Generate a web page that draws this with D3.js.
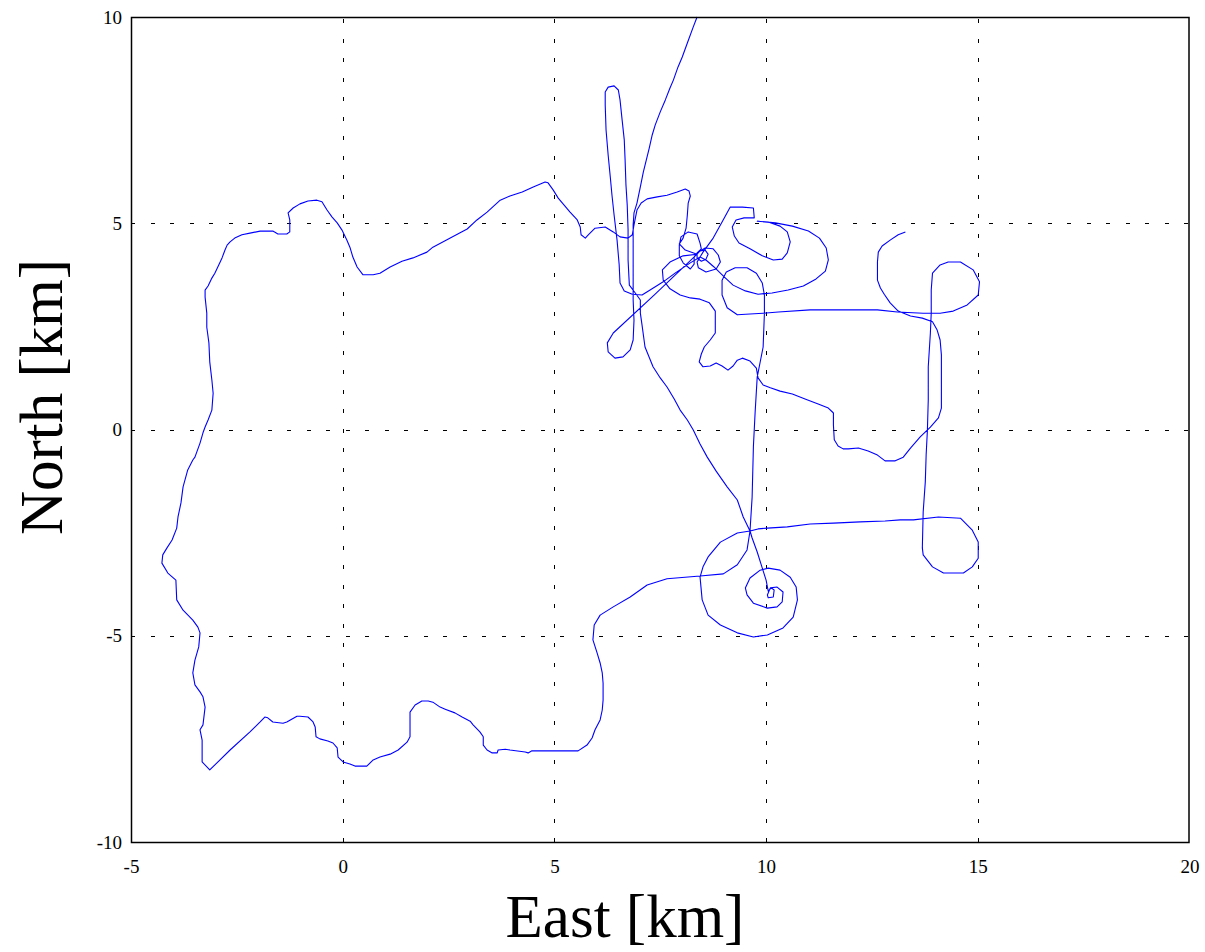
<!DOCTYPE html>
<html>
<head>
<meta charset="utf-8">
<script src="https://cdn.jsdelivr.net/npm/d3@7"></script>
<style>
  html, body { margin: 0; padding: 0; background: #ffffff; }
  svg { display: block; }
  .axis-title { font-family: "Liberation Serif", "Times New Roman", serif; font-size: 61px; fill: #000; }
</style>
</head>
<body>
<svg id="chart" width="1205" height="952"></svg>
<script>
// Axis ranges and tick values (km)
const eastDomain = [-5, 20];
const northDomain = [-10, 10];
const eastTicks = [-5, 0, 5, 10, 15, 20];
const northTicks = [-10, -5, 0, 5, 10];
const eastGrid = [0, 5, 10, 15];
const northGrid = [-5, 0, 5];

// Vehicle track, [east, north] in km, split into consecutive legs
const legDescent = [[8.37,10.00],[8.28,9.76],[8.14,9.37],[8.02,9.03],[7.92,8.79],[7.81,8.47],[7.73,8.28],[7.62,7.99],[7.50,7.70],[7.38,7.38],[7.31,7.14],[7.24,6.82],[7.17,6.53],[7.10,6.24],[7.03,5.88],[6.95,5.49],[6.88,5.25],[6.86,4.96],[6.86,4.47],[6.86,3.87],[6.86,3.14],[6.88,2.65],[6.86,2.17],[6.79,1.93],[6.62,1.76],[6.43,1.73],[6.27,1.88],[6.25,2.10],[6.39,2.34],[7.38,3.28],[8.37,4.25]];

const legCluster = [[8.44,4.33],[8.56,4.35],[8.63,4.25],[8.58,4.13],[8.47,4.08],[8.37,4.16],[8.37,4.28],[8.47,4.38],[8.44,4.52],[8.37,4.74],[8.16,4.79],[7.99,4.67],[7.95,4.47],[7.95,4.21],[8.04,4.04],[8.21,3.89],[8.30,4.01],[8.30,4.18],[8.37,4.28],[8.56,4.40],[8.75,4.38],[8.87,4.23],[8.92,4.06],[8.82,3.89],[8.58,3.82],[8.40,3.92],[8.37,4.06],[8.44,4.18],[8.51,4.30],[8.75,4.64],[8.96,5.03],[9.15,5.39],[9.44,5.39],[9.70,5.37],[9.72,5.13],[9.48,5.13],[9.29,5.08],[9.20,4.91],[9.25,4.69],[9.36,4.52],[9.62,4.38],[9.91,4.21],[10.17,4.11],[10.38,4.13],[10.50,4.28],[10.57,4.55],[10.50,4.79],[10.33,4.93],[10.05,5.03],[9.79,5.05],[10.22,5.01],[10.62,4.93],[11.00,4.81],[11.26,4.64],[11.42,4.40],[11.47,4.11],[11.40,3.84],[11.18,3.65],[10.88,3.48],[10.52,3.38],[10.14,3.31],[9.81,3.28],[9.51,3.36],[9.22,3.50],[9.01,3.70],[8.77,3.94],[8.58,4.11],[8.44,4.18]];

const legNarrow = [[8.21,4.04],[7.85,3.79],[7.57,3.58],[7.26,3.38],[7.07,3.26],[6.84,3.28],[6.65,3.36],[6.55,3.55],[6.53,3.99],[6.48,4.59],[6.41,5.20],[6.36,5.68],[6.32,6.12],[6.27,6.65],[6.22,7.26],[6.20,7.87],[6.20,8.18],[6.27,8.30],[6.41,8.33],[6.51,8.23],[6.55,7.99],[6.60,7.50],[6.65,7.02],[6.67,6.53],[6.69,5.93],[6.72,5.44],[6.74,4.84],[6.74,4.11],[6.77,3.50],[6.91,3.31],[7.03,3.14],[7.03,2.82],[7.07,2.53],[7.14,2.00],[7.33,1.52],[7.50,1.25],[7.66,1.03],[7.83,0.74],[7.97,0.47],[8.14,0.23],[8.28,-0.01],[8.44,-0.35],[8.61,-0.67],[8.82,-1.01],[9.08,-1.39],[9.32,-1.71],[9.46,-2.12],[9.62,-2.46]];

const legRectangle = [[9.81,-2.41],[10.03,-2.39],[10.50,-2.36],[11.04,-2.29],[11.59,-2.27],[12.22,-2.24],[12.81,-2.22],[13.17,-2.19],[13.48,-2.19],[14.07,-2.12],[14.59,-2.15],[14.87,-2.44],[15.01,-2.73],[15.01,-3.12],[14.87,-3.33],[14.66,-3.48],[14.19,-3.48],[13.93,-3.33],[13.71,-3.04],[13.69,-2.87],[13.71,-2.00],[13.76,-1.27],[13.78,-0.62],[13.81,-0.01],[13.83,0.72],[13.83,1.52],[13.88,2.34],[13.90,2.82],[13.90,3.38],[13.93,3.79],[14.11,3.99],[14.30,4.06],[14.59,4.06],[14.89,3.87],[15.04,3.58],[15.01,3.26],[14.75,3.02],[14.42,2.87],[14.11,2.82],[13.71,2.82],[13.10,2.85],[12.63,2.90],[11.04,2.90],[10.29,2.85],[9.93,2.82],[9.62,2.80],[9.32,2.78],[9.08,2.95],[8.96,3.26],[8.96,3.62],[9.06,3.82],[9.27,3.92],[9.55,3.92],[9.77,3.79],[9.91,3.55],[9.96,3.26],[9.96,2.82],[9.93,2.00],[9.79,1.27],[9.74,0.40],[9.70,-0.42],[9.67,-1.64],[9.62,-2.46]];

const legSpiral = [[9.32,-2.51],[8.92,-2.73],[8.63,-3.09],[8.51,-3.33],[8.44,-3.58],[8.49,-4.13],[8.63,-4.50],[8.92,-4.74],[9.32,-4.93],[9.70,-5.03],[10.03,-4.98],[10.40,-4.81],[10.64,-4.55],[10.74,-4.13],[10.71,-3.82],[10.57,-3.58],[10.33,-3.41],[10.05,-3.36],[9.86,-3.41],[9.62,-3.60],[9.51,-3.84],[9.55,-4.01],[9.70,-4.21],[10.03,-4.33],[10.26,-4.30],[10.38,-4.18],[10.40,-3.94],[10.26,-3.82],[10.10,-3.84],[10.03,-4.01],[10.05,-4.08],[10.17,-4.06],[10.19,-3.89],[10.12,-3.84],[10.05,-3.92],[10.00,-3.65],[9.91,-3.36],[9.79,-2.97],[9.67,-2.63],[9.62,-2.46]];

const legWest = [[9.55,-2.92],[9.32,-3.28],[8.99,-3.50],[8.44,-3.55],[7.66,-3.62],[7.19,-3.77],[6.79,-4.06],[6.39,-4.30],[6.08,-4.50],[5.94,-4.74],[5.91,-5.10],[6.01,-5.42],[6.08,-5.66],[6.13,-5.90],[6.15,-6.15],[6.15,-6.56],[6.13,-6.80],[6.08,-7.04],[5.96,-7.28],[5.89,-7.48],[5.77,-7.65],[5.56,-7.79],[4.97,-7.79],[4.47,-7.79],[4.38,-7.84],[4.31,-7.82],[3.95,-7.77],[3.84,-7.75],[3.67,-7.77],[3.65,-7.84],[3.53,-7.84],[3.41,-7.77],[3.32,-7.65],[3.32,-7.45],[3.24,-7.33],[3.08,-7.16],[3.01,-7.07],[2.82,-6.97],[2.65,-6.87],[2.42,-6.78],[2.30,-6.73],[2.13,-6.61],[2.02,-6.58],[1.87,-6.58],[1.71,-6.68],[1.59,-6.85],[1.59,-7.45],[1.52,-7.58],[1.31,-7.77],[1.12,-7.87],[0.88,-7.94],[0.72,-8.01],[0.57,-8.16],[0.29,-8.16],[0.17,-8.11],[0.01,-8.06],[-0.11,-7.94],[-0.13,-7.72],[-0.23,-7.60],[-0.35,-7.55],[-0.54,-7.50],[-0.63,-7.45],[-0.65,-7.21],[-0.70,-7.09],[-0.82,-6.97],[-1.01,-6.95],[-1.08,-6.95],[-1.32,-7.09],[-1.41,-7.12],[-1.65,-7.09],[-1.77,-6.99],[-1.84,-6.97],[-1.95,-7.09],[-2.19,-7.33],[-2.66,-7.77],[-2.97,-8.08],[-3.14,-8.25],[-3.32,-8.06],[-3.32,-7.53],[-3.37,-7.28],[-3.30,-7.16],[-3.25,-6.73],[-3.30,-6.48],[-3.37,-6.36],[-3.49,-6.19],[-3.54,-5.90],[-3.49,-5.59],[-3.40,-5.27],[-3.37,-4.93],[-3.42,-4.79],[-3.54,-4.62],[-3.77,-4.38],[-3.92,-4.13],[-3.94,-3.65],[-4.13,-3.48],[-4.27,-3.24],[-4.25,-3.04],[-4.15,-2.87],[-4.03,-2.68],[-3.92,-2.39],[-3.89,-2.12],[-3.82,-1.78],[-3.77,-1.39],[-3.66,-0.98],[-3.54,-0.74],[-3.49,-0.67],[-3.37,-0.33],[-3.30,-0.08],[-3.25,0.06],[-3.18,0.23],[-3.09,0.47],[-3.06,0.88],[-3.09,1.20],[-3.14,1.64],[-3.16,2.10],[-3.21,2.48],[-3.21,2.82],[-3.25,3.21],[-3.25,3.38],[-3.18,3.48],[-3.09,3.67],[-3.02,3.79],[-2.95,3.94],[-2.85,4.16],[-2.78,4.35],[-2.73,4.47],[-2.66,4.55],[-2.55,4.64],[-2.38,4.72],[-2.19,4.76],[-1.95,4.81],[-1.65,4.81],[-1.53,4.74],[-1.32,4.74],[-1.25,4.79],[-1.25,5.08],[-1.29,5.25],[-1.17,5.37],[-1.01,5.47],[-0.82,5.54],[-0.61,5.56],[-0.49,5.52],[-0.37,5.32],[-0.25,5.15],[-0.13,5.01],[-0.02,4.84],[0.10,4.59],[0.17,4.42],[0.24,4.18],[0.34,3.94],[0.48,3.75],[0.72,3.75],[0.88,3.79],[1.12,3.94],[1.40,4.08],[1.66,4.16],[1.99,4.30],[2.13,4.42],[2.54,4.64],[2.94,4.86],[3.17,5.08],[3.41,5.27],[3.72,5.56],[3.95,5.66],[4.24,5.76],[4.50,5.88],[4.78,6.00],[4.85,5.98],[4.97,5.81],[5.09,5.61],[5.37,5.27],[5.54,5.08],[5.61,4.91],[5.63,4.72],[5.73,4.64],[5.80,4.72],[5.96,4.88],[6.20,4.91],[6.39,4.79],[6.55,4.67],[6.74,4.64],[6.84,4.72],[6.88,4.96],[6.95,5.32],[7.05,5.49],[7.19,5.59],[7.43,5.64],[7.66,5.68],[7.90,5.76],[8.09,5.83],[8.18,5.78],[8.21,5.66],[8.16,5.49],[8.14,5.20],[8.11,4.88],[8.04,4.64],[7.95,4.50],[8.09,4.35],[8.37,4.25]];

const legEastLoop = [[8.04,4.21],[7.73,4.06],[7.55,3.87],[7.57,3.62],[7.73,3.41],[7.97,3.26],[8.21,3.19],[8.44,3.16],[8.66,3.07],[8.80,2.87],[8.80,2.65],[8.80,2.34],[8.68,2.17],[8.54,2.00],[8.47,1.83],[8.42,1.64],[8.51,1.52],[8.68,1.54],[8.82,1.61],[8.96,1.54],[9.10,1.44],[9.22,1.54],[9.32,1.68],[9.44,1.73],[9.62,1.66],[9.77,1.49],[9.81,1.25],[9.93,1.08],[10.10,1.01],[10.33,0.93],[10.62,0.86],[10.92,0.74],[11.23,0.62],[11.47,0.52],[11.59,0.40],[11.59,0.11],[11.61,-0.25],[11.70,-0.40],[11.82,-0.47],[11.94,-0.47],[12.18,-0.45],[12.41,-0.52],[12.63,-0.62],[12.81,-0.76],[13.05,-0.76],[13.24,-0.67],[13.41,-0.45],[13.64,-0.18],[13.88,0.06],[14.07,0.28],[14.14,0.52],[14.14,1.20],[14.14,1.81],[14.11,2.17],[14.04,2.41],[13.93,2.61],[13.69,2.70],[13.41,2.75],[13.12,2.87],[12.93,3.07],[12.79,3.28],[12.70,3.43],[12.63,3.62],[12.63,4.06],[12.65,4.30],[12.74,4.45],[12.93,4.59],[13.12,4.72],[13.29,4.79]];

const track = [].concat(legDescent, legCluster, legNarrow, legRectangle, legSpiral, legWest, legEastLoop);

// Layout
const W = 1205, H = 952;
const plot = { left: 131, top: 17, right: 1189.5, bottom: 842 };
const serif = '"Liberation Serif", "Times New Roman", serif';

const svg = d3.select("#chart");

const x = d3.scaleLinear().domain(eastDomain).range([plot.left, plot.right]);
const y = d3.scaleLinear().domain(northDomain).range([plot.bottom, plot.top]);

svg.append("rect").attr("x", 0).attr("y", 0).attr("width", W).attr("height", H).attr("fill", "#fff");

// Dotted grid
const grid = svg.append("g").attr("stroke", "#000").attr("stroke-width", 1)
  .attr("stroke-dasharray", "4,15.5").attr("shape-rendering", "crispEdges");
grid.selectAll("line.v").data(eastGrid).join("line").attr("class", "v")
  .attr("x1", d => Math.round(x(d)) + 0.5).attr("x2", d => Math.round(x(d)) + 0.5)
  .attr("y1", plot.bottom).attr("y2", plot.top);
grid.selectAll("line.h").data(northGrid).join("line").attr("class", "h")
  .attr("y1", d => Math.round(y(d)) + 0.5).attr("y2", d => Math.round(y(d)) + 0.5)
  .attr("x1", plot.left).attr("x2", plot.right);

// Track
const line = d3.line().x(d => x(d[0])).y(d => y(d[1]));
svg.append("path").datum(track)
  .attr("d", line)
  .attr("fill", "none")
  .attr("stroke", "#0000ff")
  .attr("stroke-width", 1.1)
  .attr("stroke-linejoin", "round");

// Axes (labels only, box drawn separately)
const fmt = d => String(d);
const xAxis = d3.axisBottom(x).tickValues(eastTicks).tickSize(0).tickPadding(18).tickFormat(fmt);
const yAxis = d3.axisLeft(y).tickValues(northTicks).tickSize(0).tickPadding(9).tickFormat(fmt);
const gx = svg.append("g").attr("transform", `translate(0,${plot.bottom})`).call(xAxis);
const gy = svg.append("g").attr("transform", `translate(${plot.left},0)`).call(yAxis);
[gx, gy].forEach(g => {
  g.select(".domain").remove();
  g.attr("font-family", serif).attr("font-size", 19);
  g.selectAll("text").attr("font-family", serif).attr("font-size", 19).attr("fill", "#000");
});

// Box
svg.append("rect")
  .attr("x", plot.left + 0.5).attr("y", plot.top + 0.5)
  .attr("width", plot.right - plot.left - 1).attr("height", plot.bottom - plot.top)
  .attr("fill", "none").attr("stroke", "#000").attr("stroke-width", 1.5);

// Axis titles
svg.append("text").attr("class", "axis-title")
  .attr("x", 625).attr("y", 937).attr("text-anchor", "middle")
  .text("East [km]");
svg.append("text").attr("class", "axis-title")
  .attr("transform", "translate(62,397) rotate(-90)")
  .attr("text-anchor", "middle")
  .text("North [km]");
</script>
</body>
</html>
